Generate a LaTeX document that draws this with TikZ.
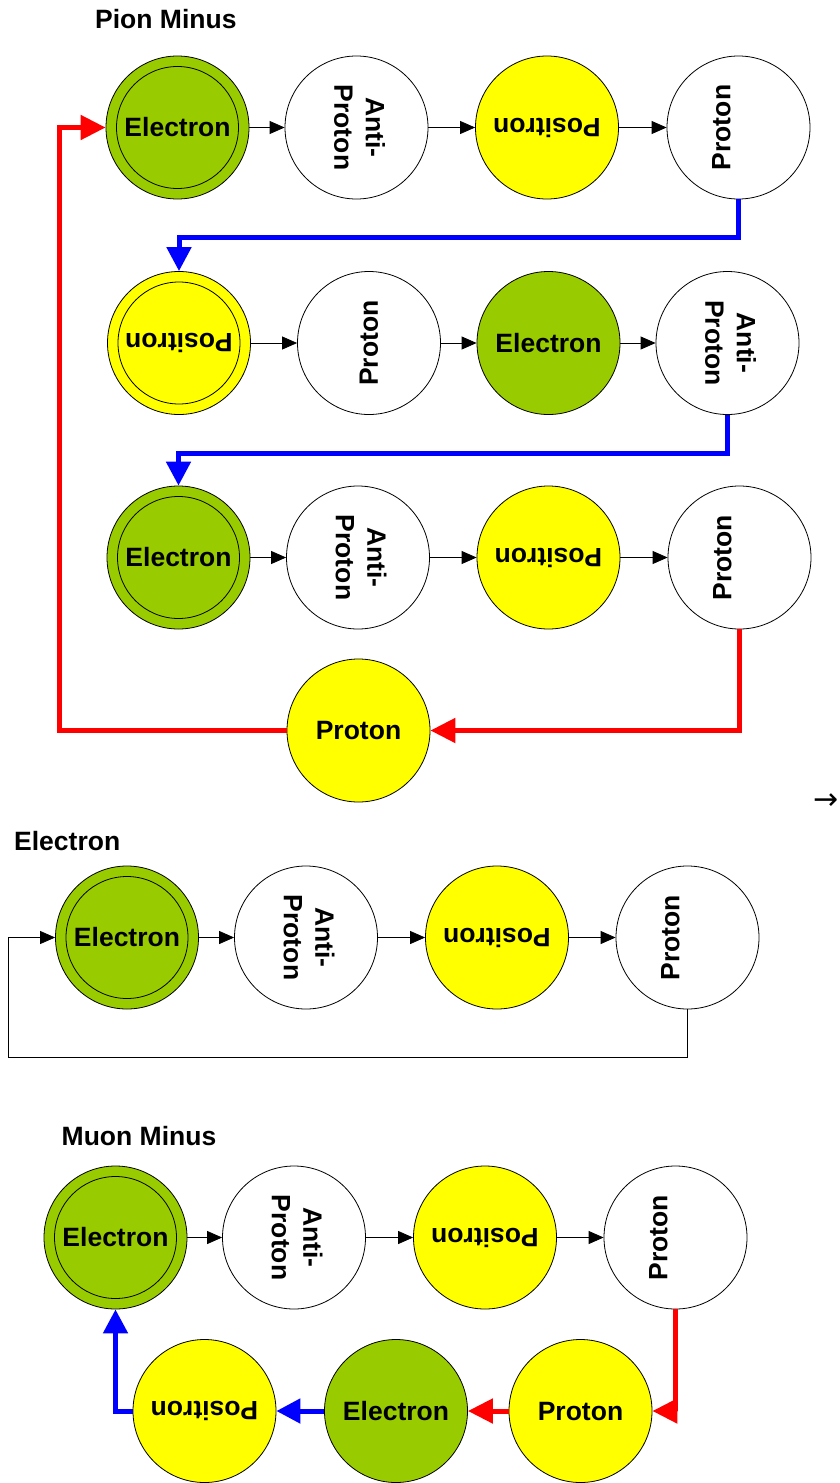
\documentclass[tikz,border=0pt]{standalone}
\usepackage{graphicx}
\usepackage{fontspec}
\setmainfont{Liberation Sans}
\newfontfamily\symfont{DejaVu Sans}
\usetikzlibrary{arrows.meta}
\definecolor{egreen}{HTML}{99CC00}
\definecolor{pyellow}{HTML}{FFFF00}
\newcommand\upsd[1]{\rotatebox{180}{#1}}
\newcommand\vup[1]{\hbox{\kern-34pt\rotatebox{90}{#1}}}
\newcommand\vupc[1]{\rotatebox{90}{#1}}
\newcommand\antip{\rotatebox{-90}{\begin{tabular}{@{}c@{}}Anti-\\Proton\end{tabular}}}
\begin{document}
\begin{tikzpicture}[x=1pt,y=-1pt,
  particle/.style={circle, draw=black, line width=0.8pt, minimum size=143pt, inner sep=0pt,
    font=\fontsize{26.5}{31.5}\selectfont\bfseries},
  elec/.style={particle, fill=egreen},
  posi/.style={particle, fill=pyellow},
  plain/.style={particle, fill=white},
  twin/.style={path picture={\draw[line width=0.8pt] (path picture bounding box.center) circle[radius=61pt];}},
  flow/.style={draw=black, line width=0.8pt, -{Triangle[length=15pt,width=13pt]}},
  redflow/.style={draw=red, line width=5pt, -{Triangle[length=25pt,width=24pt]}},
  blueflow/.style={draw=blue, line width=5pt, -{Triangle[length=24pt,width=24pt]}},
  title/.style={anchor=base west, inner sep=0pt, font=\fontsize{26.5}{31.5}\selectfont\bfseries}
]
\useasboundingbox (0,0) rectangle (839,1483);

% ---------- Pion Minus ----------
\node[title] (t1) at (95,28.3) {Pion Minus};

\node[elec,twin] (e1)   at (177.5,127.5) {Electron};
\node[plain]     (ap1)  at (356.5,127.5) {\antip};
\node[posi]      (pos1) at (547,127.5)   {\upsd{Positron}};
\node[plain]     (p1)   at (738.5,127.5) {\vup{Proton}};

\node[posi,twin] (pos2) at (179,343)   {\upsd{Positron}};
\node[plain]     (p2)   at (369,343)   {\vupc{Proton}};
\node[elec]      (e2)   at (548.5,343) {Electron};
\node[plain]     (ap2)  at (727.5,343) {\antip};

\node[elec,twin] (e3)   at (178.5,557.5) {Electron};
\node[plain]     (ap3)  at (358,557.5)   {\antip};
\node[posi]      (pos3) at (548.5,557.5) {\upsd{Positron}};
\node[plain]     (p3)   at (739.5,557.5) {\vup{Proton}};

\node[posi,text depth=0pt] (py) at (358.5,730.5) {Proton};

\draw[flow] (e1) -- (ap1);
\draw[flow] (ap1) -- (pos1);
\draw[flow] (pos1) -- (p1);
\draw[flow] (pos2) -- (p2);
\draw[flow] (p2) -- (e2);
\draw[flow] (e2) -- (ap2);
\draw[flow] (e3) -- (ap3);
\draw[flow] (ap3) -- (pos3);
\draw[flow] (pos3) -- (p3);

\draw[blueflow] (p1.south) -- (p1.south |- 0,237.5) -| (pos2.north);
\draw[blueflow] (ap2.south) -- (ap2.south |- 0,453) -| (e3.north);
\draw[redflow] (p3.south) |- (py.east);
\coordinate (rc) at (59,730.5);
\draw[redflow] (py.west) -- (rc) |- (e1.west);

\node[anchor=base east, inner sep=0pt, font=\symfont\fontsize{30}{30}\selectfont] (arr) at (839,809) {→};

% ---------- Electron ----------
\node[title] (t2) at (14,850) {Electron};

\node[elec,twin] (ee)   at (127,937.5)   {Electron};
\node[plain]     (eap)  at (306,937.5)   {\antip};
\node[posi]      (epos) at (497,937.5)   {\upsd{Positron}};
\node[plain]     (ep)   at (687.5,937.5) {\vup{Proton}};

\draw[flow] (ee) -- (eap);
\draw[flow] (eap) -- (epos);
\draw[flow] (epos) -- (ep);
\coordinate (lc) at (8,1057);
\draw[flow] (ep.south) |- (lc) |- (ee.west);

% ---------- Muon Minus ----------
\node[title] (t3) at (61.5,1145) {Muon Minus};

\node[elec,twin] (me1)  at (115.5,1237.5) {Electron};
\node[plain]     (map)  at (294,1237.5)   {\antip};
\node[posi]      (mpos) at (485,1237.5)   {\upsd{Positron}};
\node[plain]     (mp)   at (675.5,1237.5) {\vup{Proton}};

\node[posi,text depth=0pt] (mpy)   at (580.5,1411) {Proton};
\node[elec]      (me2)   at (396,1411)   {Electron};
\node[posi]      (mpos2) at (204.5,1411) {\upsd{Positron}};

\draw[flow] (me1) -- (map);
\draw[flow] (map) -- (mpos);
\draw[flow] (mpos) -- (mp);

\draw[redflow] (mp.south) |- (mpy.east);
\draw[redflow] (mpy.west) -- (me2.east);
\draw[blueflow] (me2.west) -- (mpos2.east);
\draw[blueflow] (mpos2.west) -| (me1.south);

\end{tikzpicture}
\end{document}
